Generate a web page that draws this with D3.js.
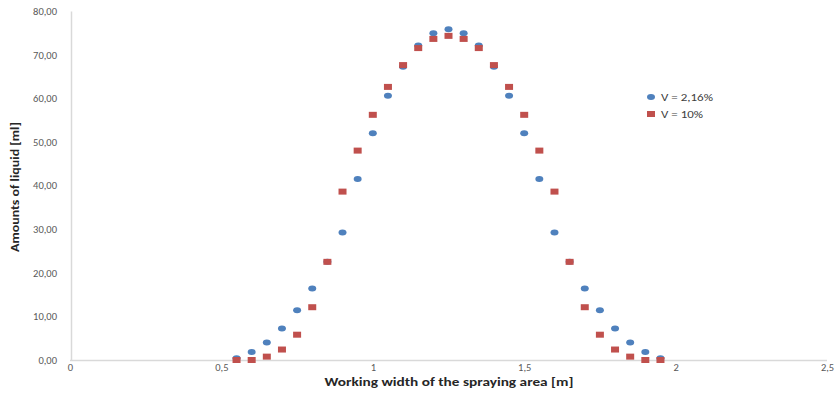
<!DOCTYPE html>
<html><head><meta charset="utf-8">
<script src="https://cdn.jsdelivr.net/npm/d3@7"></script>
<style>body{margin:0;background:#fff}svg{display:block}</style>
</head><body>
<svg id="c" width="835" height="398"></svg>
<script>
const xValues = [0.55,0.60,0.65,0.70,0.75,0.80,0.85,0.90,0.95,1.00,1.05,1.10,1.15,1.20,1.25,1.30,1.35,1.40,1.45,1.50,1.55,1.60,1.65,1.70,1.75,1.80,1.85,1.90,1.95];
const seriesA = [0.38,1.83,4.0,7.2,11.4,16.4,22.5,29.2,41.5,52.0,60.6,67.2,72.1,74.9,75.8,74.9,72.1,67.2,60.6,52.0,41.5,29.2,22.5,16.4,11.4,7.2,4.0,1.83,0.38];
const seriesB = [0,0,0.77,2.4,5.8,12.1,22.5,38.6,48.0,56.2,62.6,67.6,71.5,73.6,74.3,73.6,71.5,67.6,62.6,56.2,48.0,38.6,22.5,12.1,5.8,2.4,0.77,0,0];
const seriesNames = ["V = 2,16%","V = 10%"];
const xTicks = [0,0.5,1,1.5,2,2.5];
const yTicks = [0,10,20,30,40,50,60,70,80];
const xTitle = "Working width of the spraying area [m]";
const yTitle = "Amounts of liquid [ml]";

const svg = d3.select("#c");
const font = "Calibri, Carlito, 'Open Sans', sans-serif";
const x = d3.scaleLinear().domain([0,2.5]).range([70,827]);
const y = d3.scaleLinear().domain([0,80]).range([360,11]);
const fmtY = v => d3.format(".2f")(v).replace(".", ",");
const fmtX = v => String(v).replace(".", ",");

// axes
const xAxis = svg.append("g").attr("transform","translate(0,360)")
  .call(d3.axisBottom(x).tickValues(xTicks).tickFormat(fmtX).tickSize(0).tickPadding(4));
const yAxis = svg.append("g").attr("transform","translate(71,0)")
  .call(d3.axisLeft(y).tickValues(yTicks).tickFormat(fmtY).tickSize(0).tickPadding(14));
[xAxis,yAxis].forEach(a=>{
  a.select(".domain").attr("stroke","#d9d9d9").attr("stroke-width",1.5);
  a.selectAll("text").attr("fill","#595959").attr("font-family",font).attr("font-size",10.5);
});
xAxis.select(".domain").attr("d","M70,0.5H827");

// series A (circles)
svg.append("g").selectAll("ellipse").data(xValues).join("ellipse")
  .attr("cx",(d)=>x(d)).attr("cy",(d,i)=>y(seriesA[i]))
  .attr("rx",4).attr("ry",3).attr("fill","#4f81bd");
// series B (squares)
svg.append("g").selectAll("rect").data(xValues).join("rect")
  .attr("x",d=>x(d)-4).attr("y",(d,i)=>y(seriesB[i])-3)
  .attr("width",8).attr("height",6).attr("fill","#c0504d");

// titles
svg.append("text").attr("x",449).attr("y",386).attr("text-anchor","middle")
  .attr("font-family",font).attr("font-weight","bold").attr("font-size",12)
  .attr("fill","#262626").attr("textLength",249).attr("lengthAdjust","spacingAndGlyphs").text(xTitle);
svg.append("text").attr("transform","translate(19,187) rotate(-90)").attr("text-anchor","middle")
  .attr("font-family",font).attr("font-weight","bold").attr("font-size",12)
  .attr("fill","#262626").attr("textLength",130).attr("lengthAdjust","spacingAndGlyphs").text(yTitle);

// legend
const lg = svg.append("g");
lg.append("ellipse").attr("cx",651).attr("cy",97).attr("rx",4).attr("ry",3).attr("fill","#4f81bd");
lg.append("rect").attr("x",647).attr("y",111).attr("width",8).attr("height",6).attr("fill","#c0504d");
lg.append("text").attr("x",661).attr("y",101).attr("font-family",font).attr("font-size",11).attr("fill","#404040")
  .attr("textLength",52).attr("lengthAdjust","spacingAndGlyphs").text(seriesNames[0]);
lg.append("text").attr("x",661).attr("y",118).attr("font-family",font).attr("font-size",11).attr("fill","#404040")
  .attr("textLength",42).attr("lengthAdjust","spacingAndGlyphs").text(seriesNames[1]);
</script>
</body></html>
